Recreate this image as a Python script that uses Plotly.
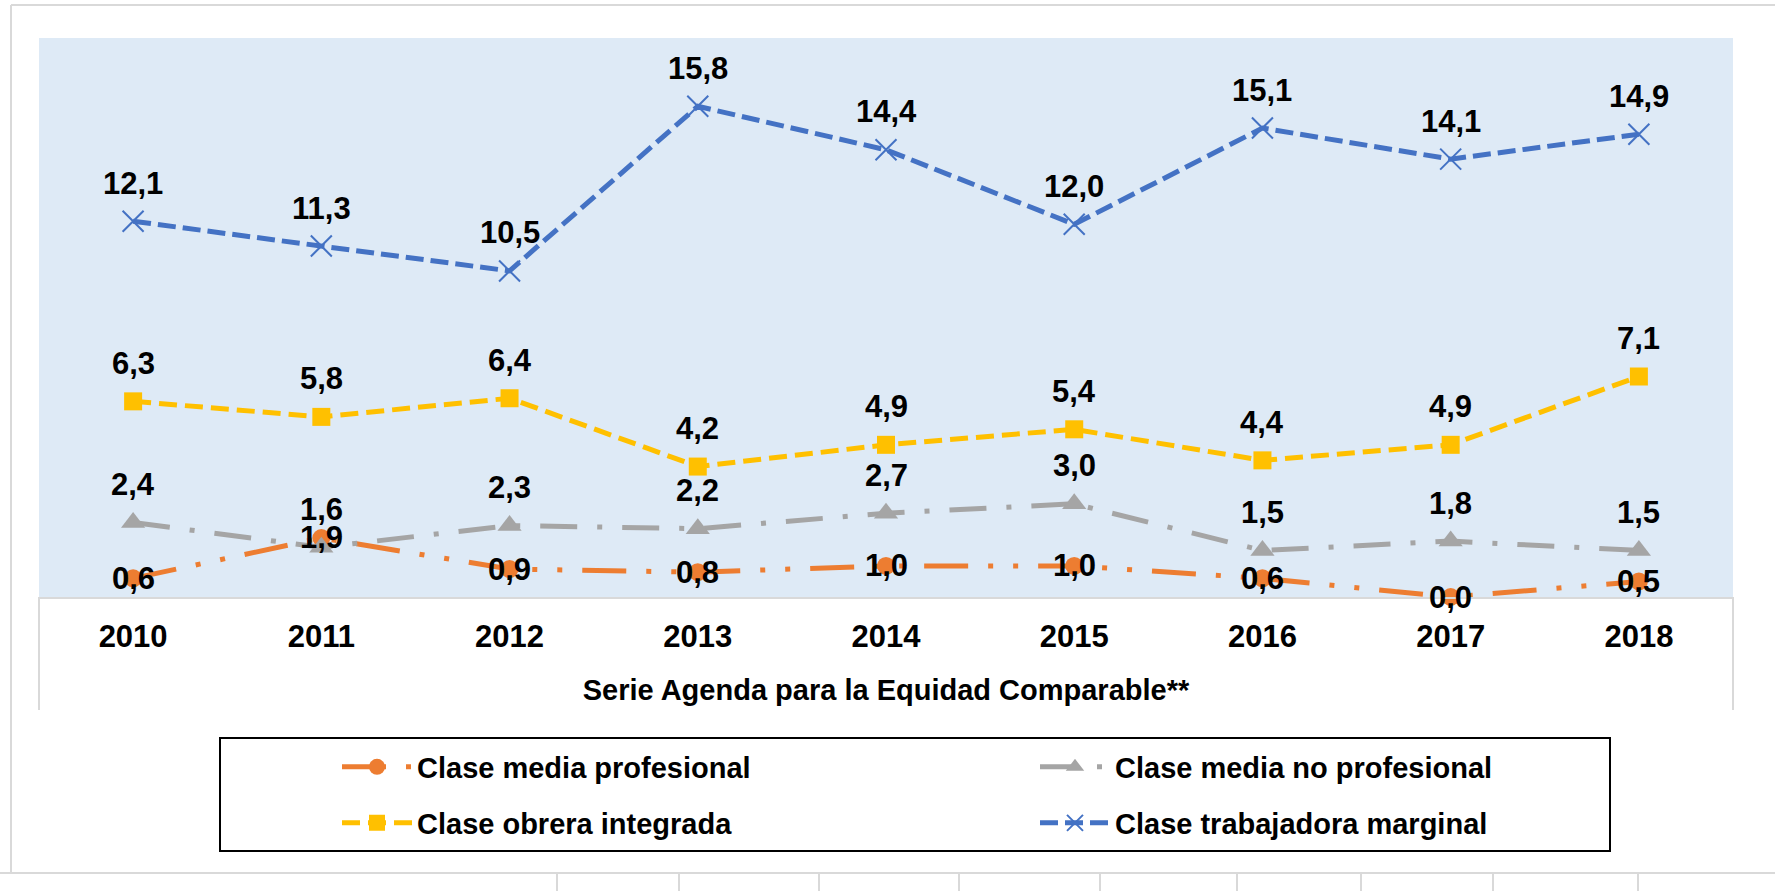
import plotly.graph_objects as go

# Datos
anios = ['2010', '2011', '2012', '2013', '2014', '2015', '2016', '2017', '2018']
media_profesional = [0.6, 1.9, 0.9, 0.8, 1.0, 1.0, 0.6, 0.0, 0.5]
media_no_profesional = [2.4, 1.6, 2.3, 2.2, 2.7, 3.0, 1.5, 1.8, 1.5]
obrera_integrada = [6.3, 5.8, 6.4, 4.2, 4.9, 5.4, 4.4, 4.9, 7.1]
trabajadora_marginal = [12.1, 11.3, 10.5, 15.8, 14.4, 12.0, 15.1, 14.1, 14.9]

W, H = 1775, 891
PL, PR, PT, PB = 39, 1733, 38, 597  # área de trazado en píxeles

FONT = 'Arial, Liberation Sans, sans-serif'
TXT = dict(family=FONT, size=29, color='black', weight='bold')
TXT_GRANDE = dict(family=FONT, size=31, color='black', weight='bold')
GRIS_BORDE = '#D9D9D9'


def px_x(x):
    return (x - PL) / (PR - PL)


def px_y(y):
    return (PB - y) / (PB - PT)


def fmt(v):
    return f'{v:.1f}'.replace('.', ',')


series = [
    dict(nombre='Clase media profesional', y=media_profesional, color='#ED7D31',
         simbolo='circle', size=18, dash='44px,20px,5px,20px,5px,20px',
         legend='legend', shift=0),
    dict(nombre='Clase media no profesional', y=media_no_profesional, color='#A5A5A5',
         simbolo='triangle-up', size=21, dash='37px,20px,5px,20px',
         legend='legend', shift=38),
    dict(nombre='Clase obrera integrada', y=obrera_integrada, color='#FFC000',
         simbolo='square', size=18, dash='18px,8px',
         legend='legend2', shift=38),
    dict(nombre='Clase trabajadora marginal', y=trabajadora_marginal, color='#4472C4',
         simbolo='x-thin', size=21, dash='18px,7px',
         legend='legend2', shift=38),
]

fig = go.Figure()

for s in series:
    marker = dict(symbol=s['simbolo'], size=s['size'], color=s['color'])
    if s['simbolo'] == 'x-thin':
        marker['line'] = dict(color=s['color'], width=2)
    else:
        marker['line'] = dict(width=0)
    fig.add_trace(go.Scatter(
        x=anios, y=s['y'], name=s['nombre'], mode='lines+markers',
        line=dict(color=s['color'], width=5, dash=s['dash']),
        marker=marker, cliponaxis=False, legend=s['legend'],
    ))
    # etiquetas de datos (x como índice de categoría)
    for i, v in enumerate(s['y']):
        fig.add_annotation(
            x=i, y=v, xref='x', yref='y', text=fmt(v), showarrow=False,
            yshift=s['shift'], font=TXT_GRANDE,
        )

leyenda = dict(
    orientation='h', xanchor='left', yanchor='middle', x=px_x(337),
    entrywidth=613, entrywidthmode='pixels', itemwidth=70,
    font=TXT, bgcolor='rgba(0,0,0,0)', borderwidth=0,
)

fig.update_layout(
    width=W, height=H,
    margin=dict(l=PL, r=W - PR, t=PT, b=H - PB),
    paper_bgcolor='white', plot_bgcolor='#DEEAF6',
    showlegend=True,
    legend={**leyenda, 'y': px_y(767)},
    legend2={**leyenda, 'y': px_y(823)},
    xaxis=dict(
        type='category', range=[-0.5, 8.5], showgrid=False, zeroline=False,
        showline=True, linecolor=GRIS_BORDE, linewidth=2, ticks='',
        ticklabelstandoff=11, tickfont=TXT_GRANDE,
        title=dict(text='Serie Agenda para la Equidad Comparable**', standoff=26,
                   font=TXT),
    ),
    yaxis=dict(range=[0, 18], visible=False, showgrid=False, zeroline=False),
)

# Recuadros y líneas de fondo
lineas = [
    # borde exterior del gráfico
    (11, 5, 11, 873),
    (11, 5, W, 5),
    (0, 873, W, 873),
    # laterales de la zona del eje x
    (PL, PB, PL, 710),
    (PR, PB, PR, 710),
]
for cx in [557, 679, 819, 959, 1100, 1237, 1361, 1493, 1638]:
    lineas.append((cx, 873, cx, H))

for x0, y0, x1, y1 in lineas:
    fig.add_shape(type='line', xref='paper', yref='paper',
                  x0=px_x(x0), y0=px_y(y0), x1=px_x(x1), y1=px_y(y1),
                  line=dict(color=GRIS_BORDE, width=2), layer='below')

# marco de la leyenda
fig.add_shape(type='rect', xref='paper', yref='paper',
              x0=px_x(220), y0=px_y(738), x1=px_x(1610), y1=px_y(851),
              line=dict(color='black', width=2), fillcolor='rgba(0,0,0,0)')

# sin margen del body para que el gráfico ocupe la ventana
fig.write_html('out.html', config={'displayModeBar': False},
               post_script="document.body.style.margin='0';")
